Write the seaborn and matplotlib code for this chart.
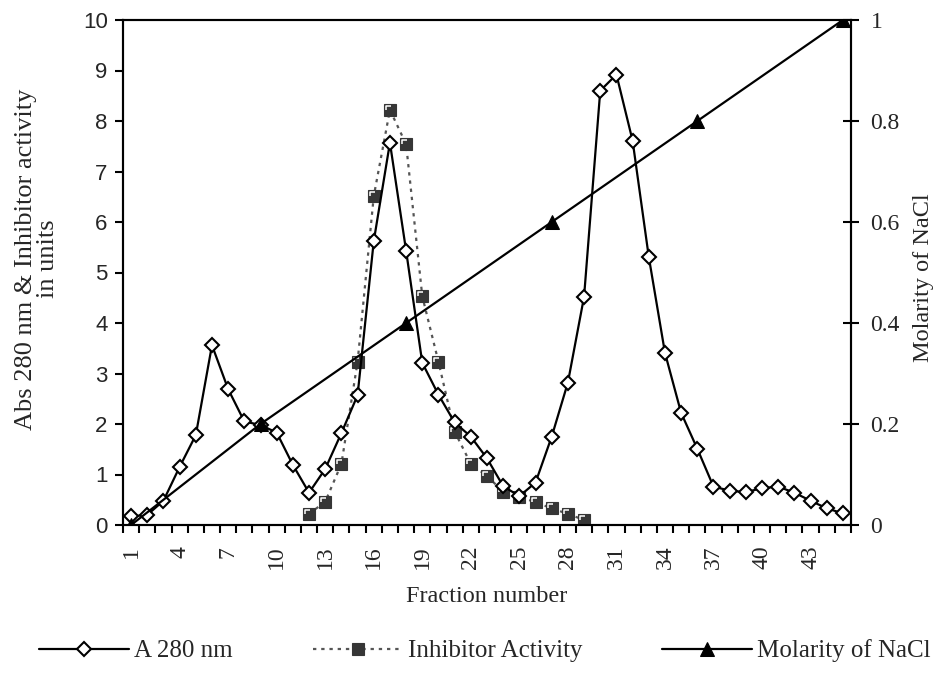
import numpy as np
import pandas as pd
import matplotlib
matplotlib.use("Agg")
import matplotlib.pyplot as plt
from matplotlib.path import Path
from matplotlib.ticker import FixedLocator, NullFormatter
import seaborn as sns

# ---------------- data ----------------
a280_fraction = list(range(1, 46))
a280_values = [0.17, 0.20, 0.48, 1.15, 1.78, 3.56, 2.69, 2.05, 1.98, 1.83,
               1.19, 0.64, 1.11, 1.82, 2.57, 5.62, 7.57, 5.43, 3.21, 2.58,
               2.03, 1.75, 1.32, 0.77, 0.57, 0.84, 1.75, 2.82, 4.52, 8.60,
               8.92, 7.61, 5.31, 3.41, 2.22, 1.51, 0.76, 0.68, 0.65, 0.73,
               0.76, 0.64, 0.48, 0.33, 0.23]

inhib_fraction = list(range(12, 30))
inhib_values = [0.22, 0.46, 1.21, 3.23, 6.51, 8.22, 7.54, 4.53, 3.23, 1.85,
                1.21, 0.97, 0.66, 0.56, 0.45, 0.33, 0.22, 0.10]

nacl_fraction = [1, 9, 18, 27, 36, 45]
nacl_molarity = [0.0, 0.2, 0.4, 0.6, 0.8, 1.0]

xtick_labels = list(range(1, 46, 3))
left_yticks = list(range(0, 11))
right_yticks = [0, 0.2, 0.4, 0.6, 0.8, 1.0]
right_ytick_labels = ["0", "0.2", "0.4", "0.6", "0.8", "1"]

series_names = ["A 280 nm", "Inhibitor Activity", "Molarity of NaCl"]

# ---------------- style ----------------
sns.set_style("ticks")
plt.rcParams["font.family"] = ["Liberation Serif", "DejaVu Serif"]
plt.rcParams["axes.linewidth"] = 1.5

W, H = 939, 677
fig = plt.figure(figsize=(W / 100, H / 100), dpi=100)
ax = fig.add_axes([123 / W, 1 - 525 / H, (851 - 123) / W, (525 - 20) / H])
ax2 = ax.twinx()

df_a = pd.DataFrame({"x": a280_fraction, "y": a280_values})
df_i = pd.DataFrame({"x": inhib_fraction, "y": inhib_values})
df_n = pd.DataFrame({"x": nacl_fraction, "y": nacl_molarity})

# inhibitor activity (dotted grey, dark squares)
sns.lineplot(data=df_i, x="x", y="y", ax=ax, sort=False, estimator=None,
             color="#555555", linewidth=1.6, linestyle=(0, (1.5, 2.2)),
             marker="s", markersize=8, markerfacecolor="#363636",
             markeredgecolor="#363636", markeredgewidth=0.8, zorder=3,
             label=series_names[1], legend=False)
# highlight on the square markers
hl = Path([(0.5, -0.5), (-0.32, -0.02), (-0.32, 0.32), (0.12, 0.32)],
          [Path.MOVETO, Path.MOVETO, Path.LINETO, Path.LINETO])
ax.plot(df_i["x"], df_i["y"], linestyle="none", marker=hl, markersize=8,
        markerfacecolor="none", markeredgecolor="white", markeredgewidth=1.1,
        zorder=3.5)

# A 280 nm (solid black, open diamonds)
sns.lineplot(data=df_a, x="x", y="y", ax=ax, sort=False, estimator=None,
             color="black", linewidth=1.6, marker="D", markersize=7.5,
             markerfacecolor="white", markeredgecolor="black",
             markeredgewidth=1.5, zorder=4, label=series_names[0], legend=False)

# Molarity of NaCl (secondary axis)
sns.lineplot(data=df_n, x="x", y="y", ax=ax2, sort=False, estimator=None,
             color="black", linewidth=1.6, marker="^", markersize=10,
             markerfacecolor="black", markeredgecolor="black",
             zorder=4, label=series_names[2], legend=False)

# ---------------- axes ----------------
ax.set_xlim(0.5, 45.5)
ax.set_ylim(0, 10)
ax2.set_ylim(0, 1)

ax.xaxis.set_major_locator(FixedLocator(xtick_labels))
ax.set_xticklabels([str(v) for v in xtick_labels], rotation=90,
                   fontsize=17, family="Liberation Serif")
ax.xaxis.set_minor_locator(FixedLocator(np.arange(0.5, 46, 1)))
ax.xaxis.set_minor_formatter(NullFormatter())
ax.tick_params(axis="x", which="major", length=0, pad=15)
ax.tick_params(axis="x", which="minor", length=6, width=1.5, direction="out",
               color="black")

ax.set_yticks(left_yticks)
ax.set_yticklabels([str(v) for v in left_yticks], fontsize=16,
                   family="Liberation Sans")
ax.tick_params(axis="y", length=6, width=1.5, direction="out", pad=5,
               color="black")

ax2.set_yticks(right_yticks)
ax2.set_yticklabels(right_ytick_labels, fontsize=17, family="Liberation Serif")
ax2.tick_params(axis="y", length=12, width=1.5, direction="inout", pad=8,
                color="black")
ax2.set_ylabel("")
ax.set_xlabel("")
ax.set_ylabel("")

for a in (ax, ax2):
    for s in a.spines.values():
        s.set_visible(True)
        s.set_color("black")
        s.set_linewidth(1.5)

# labels
fig.text(37 / W, 1 - 259 / H, "Abs 280 nm & Inhibitor activity\nin units",
         rotation=90, ha="center", va="center", fontsize=19,
         linespacing=1.05, multialignment="center")
fig.text(923 / W, 1 - 278 / H, "Molarity of NaCl", rotation=90,
         ha="center", va="center", fontsize=17.5)
fig.text(487 / W, 1 - 596 / H, "Fraction number", ha="center", va="center",
         fontsize=17.5)

# legend
h1, l1 = ax.get_legend_handles_labels()
h2, l2 = ax2.get_legend_handles_labels()
handles = h1 + h2
labels = l1 + l2
order = [labels.index(n) for n in series_names]
leg = fig.legend([handles[i] for i in order], [labels[i] for i in order],
                 loc="center", bbox_to_anchor=(485 / W, 1 - 651 / H), ncol=3,
                 frameon=False, fontsize=18, handlelength=3.6,
                 handletextpad=0.2, columnspacing=3.2, numpoints=1)

fig.savefig("out.png", dpi=100)
